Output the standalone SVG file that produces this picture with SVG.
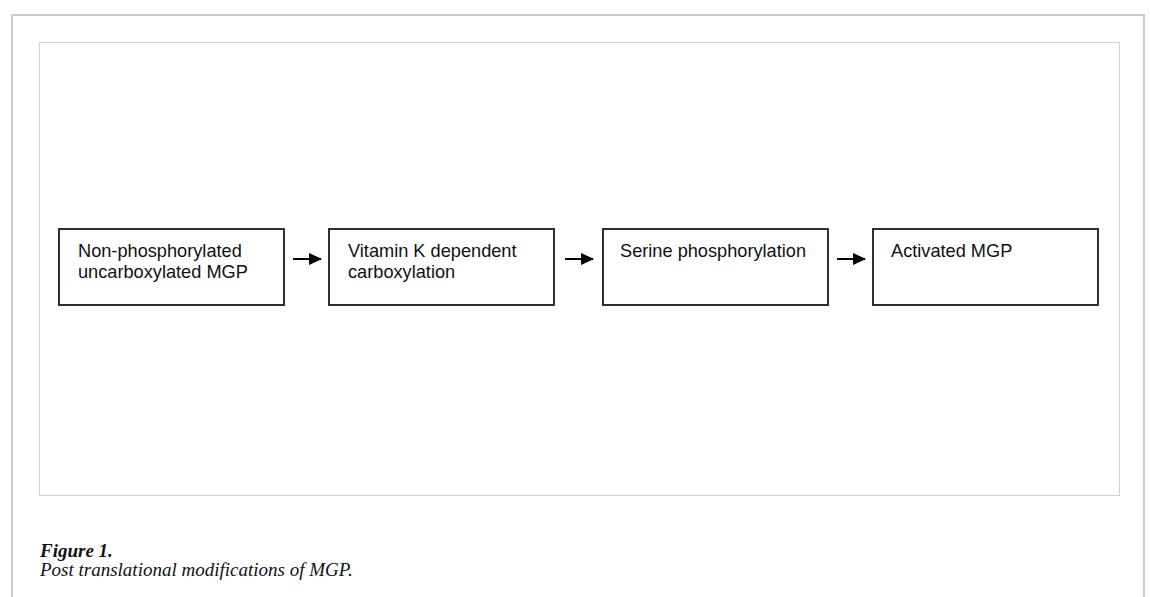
<svg xmlns="http://www.w3.org/2000/svg" width="1150" height="597" viewBox="0 0 1150 597">
<defs>
<style>
.frame{fill:none;stroke:#cccccc;stroke-width:2}
.inner{fill:#ffffff;stroke:#d0d0d0;stroke-width:1}
.box{fill:#ffffff;stroke:#1a1a1a;stroke-width:1.8}
.lbl{font-family:"Liberation Sans",Arial,sans-serif;font-size:18.2px;fill:#111}
.conn{stroke:#000;stroke-width:2;fill:none}
.cap{font-family:"Liberation Serif","DejaVu Serif",serif;font-style:italic;font-size:19px;fill:#111}
</style>
<marker id="ah" viewBox="0 0 13 12" refX="12" refY="6" markerWidth="6.5" markerHeight="6" markerUnits="strokeWidth" orient="auto">
<path d="M0,0 L13,6 L0,12 z" fill="#000"/>
</marker>
</defs>
<rect width="1150" height="597" fill="#ffffff"/>
<path class="frame" d="M12,600 V15 H1144 V600"/>
<rect class="inner" x="39.5" y="42.5" width="1080" height="453"/>
<g id="node1">
<rect class="box" x="59" y="229" width="225" height="76"/>
<text class="lbl" x="78" y="257">Non-phosphorylated</text>
<text class="lbl" x="78" y="278">uncarboxylated MGP</text>
</g>
<g id="node2">
<rect class="box" x="329" y="229" width="225" height="76"/>
<text class="lbl" x="348" y="257">Vitamin K dependent</text>
<text class="lbl" x="348" y="278">carboxylation</text>
</g>
<g id="node3">
<rect class="box" x="603" y="229" width="225" height="76"/>
<text class="lbl" x="620" y="257">Serine phosphorylation</text>
</g>
<g id="node4">
<rect class="box" x="873" y="229" width="225" height="76"/>
<text class="lbl" x="891" y="257">Activated MGP</text>
</g>
<g id="connectors">
<line class="conn" x1="293" y1="259" x2="321" y2="259" marker-end="url(#ah)"/>
<line class="conn" x1="565" y1="259" x2="593" y2="259" marker-end="url(#ah)"/>
<line class="conn" x1="837" y1="259" x2="865" y2="259" marker-end="url(#ah)"/>
</g>
<g id="caption">
<text class="cap" x="40" y="557" font-weight="bold">Figure 1.</text>
<text class="cap" x="40" y="576">Post translational modifications of MGP.</text>
</g>
</svg>
